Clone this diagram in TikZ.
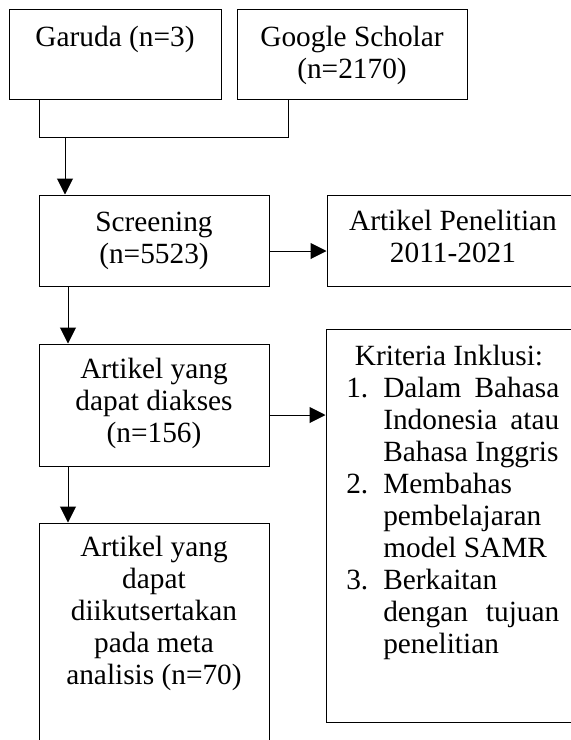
\documentclass[tikz,border=0pt]{standalone}
\usepackage{fontspec}
\setmainfont{Liberation Serif}
\usetikzlibrary{arrows.meta}
\begin{document}
\begin{tikzpicture}[x=0.75pt,y=-0.75pt,
  box/.style={draw=black, line width=0.75pt, rectangle, inner sep=0pt},
  txt/.style={anchor=north, inner sep=0pt, align=center, font=\fontsize{22}{24}\selectfont},
  lst/.style={anchor=north west, inner sep=0pt, align=left, font=\fontsize{22}{24}\selectfont},
  conn/.style={line width=0.75pt},
  arr/.style={line width=0.75pt, -{Triangle[width=12pt,length=12pt]}}]
\useasboundingbox (0,0) rectangle (571,740);
\clip (0,0) rectangle (571,740);
% boxes
\node[box, minimum width=212*0.75pt, minimum height=90*0.75pt] (garuda) at (115,54) {};
\node[box, minimum width=230*0.75pt, minimum height=90*0.75pt] (google) at (352,54) {};
\node[box, minimum width=230*0.75pt, minimum height=91*0.75pt] (screen) at (154,240.5) {};
\node[box, minimum width=253*0.75pt, minimum height=91*0.75pt] (penel) at (453.5,240.5) {};
\node[box, minimum width=230*0.75pt, minimum height=122*0.75pt] (akses) at (154,405) {};
\node[box, minimum width=259*0.75pt, minimum height=393*0.75pt] (krit) at (455.5,525.5) {};
\node[box, minimum width=230*0.75pt, minimum height=237*0.75pt] (final) at (154,641.5) {};
% texts
\node[txt] (tgaruda) at (115,23.6) {\strut Garuda (n=3)};
\node[txt] (tgoogle) at (352,23.6) {\strut Google Scholar\\(n=2170)};
\node[txt] (tscreen) at (154,208.6) {\strut Screening\\(n=5523)};
\node[txt] (tpenel) at (453,207.6) {\strut Artikel Penelitian\\2011-2021};
\node[txt] (takses) at (154,355.6) {\strut Artikel yang\\dapat diakses\\(n=156)};
\node[txt] (tfinal) at (154,533.6) {\strut Artikel yang\\dapat\\diikutsertakan\\pada meta\\analisis (n=70)};
\node[txt] (tkrit) at (449,342.6) {\strut Kriteria Inklusi:};
\node[lst] (tlist) at (346,374.6) {%
\strut\makebox[27.75pt][l]{1.}\makebox[132pt][s]{Dalam Bahasa}\\
\hspace*{27.75pt}\makebox[132pt][s]{Indonesia atau}\\
\hspace*{27.75pt}Bahasa Inggris\\
\makebox[27.75pt][l]{2.}Membahas\\
\hspace*{27.75pt}pembelajaran\\
\hspace*{27.75pt}model SAMR\\
\makebox[27.75pt][l]{3.}Berkaitan\\
\hspace*{27.75pt}\makebox[132pt][s]{dengan tujuan}\\
\hspace*{27.75pt}penelitian};
% connectors
\coordinate (j1) at (39,137);
\coordinate (j2) at (288,137);
\coordinate (j3) at (65,137);
\coordinate (v1) at (68,0);
\draw[conn] (garuda.south -| j1) -- (j1) -- (j2) -- (google.south -| j2);
\draw[arr] (j3) -- (screen.north -| j3);
\draw[arr] (screen.south -| v1) -- (akses.north -| v1);
\draw[arr] (akses.south -| v1) -- (final.north -| v1);
\coordinate (h1) at (0,251);
\coordinate (h2) at (0,415);
\draw[arr] (screen.east |- h1) -- (penel.west |- h1);
\draw[arr] (akses.east |- h2) -- (krit.west |- h2);
\end{tikzpicture}
\end{document}
